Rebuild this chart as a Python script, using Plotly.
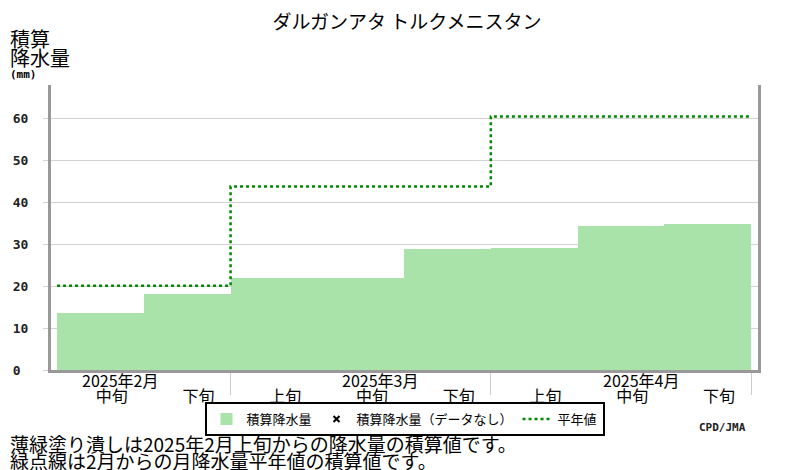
import plotly.graph_objects as go

# dekad (旬) categories shown on the x axis
dekads = ["中旬", "下旬", "上旬", "中旬", "下旬", "上旬", "中旬", "下旬"]
months = ["2025年2月", "2025年3月", "2025年4月"]
month_mid = [0, 3, 6]          # index of the dekad the month label sits over
month_ends = [1.5, 4.5, 7.5]   # month boundaries between dekads

# accumulated precipitation (mm) since 2025 Feb 上旬
cum_precip = [13.7, 18.2, 22.0, 22.0, 28.9, 29.1, 34.4, 34.8]
# accumulated monthly normal (mm)
normal_cum = [20.1, 20.1, 43.7, 43.7, 43.7, 60.4, 60.4, 60.4]

y_ticks = [0, 10, 20, 30, 40, 50, 60]

JP = "Noto Sans CJK JP"
MONO = "DejaVu Sans Mono"

# the page body adds an 8px margin, so the figure is laid out 8px smaller
OFF = 8
W, H = 800 - OFF, 470 - OFF
L, T = 51 - OFF, 85 - OFF
R = 800 - 750 - OFF
B = H - T - 285

x_idx = list(range(len(dekads)))

fig = go.Figure()

fig.add_trace(go.Bar(
    x=x_idx,
    y=cum_precip,
    width=1.0,
    name="積算降水量",
    marker=dict(color="#aae3aa", line=dict(width=0)),
))

# no-data marker (legend only)
fig.add_trace(go.Scatter(
    x=[None],
    y=[None],
    mode="markers",
    name="積算降水量（データなし）",
    marker=dict(symbol="x-thin", size=6, color="black", line=dict(width=2, color="black")),
))

# monthly normal as a step line starting at each dekad's left edge
fig.add_trace(go.Scatter(
    x=[i - 0.5 for i in x_idx] + [x_idx[-1] + 0.5],
    y=normal_cum + [normal_cum[-1]],
    mode="lines",
    line=dict(shape="hv", color="#008800", width=2.5, dash="3px,3px"),
    name="平年値",
))

annotations = []
for m, i in zip(months, month_mid):
    annotations.append(dict(
        x=i + 0.227, y=0, xref="x", yref="paper",
        text=m, showarrow=False, yshift=-10, yanchor="middle",
        font=dict(family=JP, size=16, color="black"),
    ))


def px_note(px, py, text, anchor, font):
    # place a text at a pixel position of the reference picture
    px = max(px, OFF)
    return dict(
        x=(px - OFF - L) / (W - L - R),
        y=1 - (py - OFF - T) / (H - T - B),
        xref="paper", yref="paper",
        text=text, showarrow=False,
        xanchor=anchor, yanchor="middle", font=font,
    )


annotations += [
    px_note(0, 39, "積算", "left", dict(family=JP, size=20, color="black")),
    px_note(0, 58, "降水量", "left", dict(family=JP, size=20, color="black")),
    px_note(0, 74, "<b>(mm)</b>", "left", dict(family=MONO, size=11, color="black")),
    px_note(5, 443, "薄緑塗り潰しは2025年2月上旬からの降水量の積算値です。", "left",
            dict(family=JP, size=19, color="black")),
    px_note(5, 460, "緑点線は2月からの月降水量平年値の積算値です。", "left",
            dict(family=JP, size=19, color="black")),
    px_note(748, 427, "<b>CPD/JMA</b>", "right", dict(family=MONO, size=11, color="#222222")),
]

fig.update_layout(
    width=W,
    height=H,
    margin=dict(l=L, r=R, t=T, b=B, autoexpand=False),
    paper_bgcolor="white",
    plot_bgcolor="white",
    title=dict(
        text="ダルガンアタ トルクメニスタン",
        x=(407 - OFF) / W, xanchor="center", y=1 - (22 - OFF) / H, yanchor="middle",
        font=dict(family=JP, size=19, color="black"),
    ),
    showlegend=True,
    legend=dict(
        orientation="h",
        x=0.5, xanchor="center",
        y=1 - (402 - OFF - T) / (H - T - B), yanchor="top",
        bordercolor="black", borderwidth=2,
        font=dict(family=JP, size=13, color="black"),
        itemwidth=30,
        tracegroupgap=0,
    ),
    annotations=annotations,
    bargap=0,
)

fig.update_xaxes(
    range=[-0.57, 7.58],
    tickmode="array",
    tickvals=[i + 0.13 for i in x_idx],
    ticktext=dekads,
    ticks="outside",
    ticklen=0,
    ticklabelstandoff=10,
    tickfont=dict(family=JP, size=16, color="black"),
    showgrid=False,
    zeroline=False,
    showline=True,
    linecolor="#999999",
    linewidth=3,
    minor=dict(
        tickmode="array",
        tickvals=month_ends,
        ticks="outside",
        ticklen=22,
        tickwidth=1,
        tickcolor="#cccccc",
        showgrid=False,
    ),
)

fig.update_yaxes(
    range=[0, 67.9],
    tickmode="array",
    tickvals=y_ticks,
    ticktext=[f"<b>{v}</b>" if v >= 10 else f"<b>{v}\u00a0</b>" for v in y_ticks],
    ticks="outside",
    ticklen=5,
    tickcolor="#d3d3d3",
    ticklabelstandoff=12,
    tickfont=dict(family=MONO, size=13, color="#222222"),
    showgrid=True,
    gridcolor="#d3d3d3",
    gridwidth=1,
    zeroline=False,
    showline=True,
    mirror=True,
    linecolor="#999999",
    linewidth=3,
)

fig.write_html("out.html")
